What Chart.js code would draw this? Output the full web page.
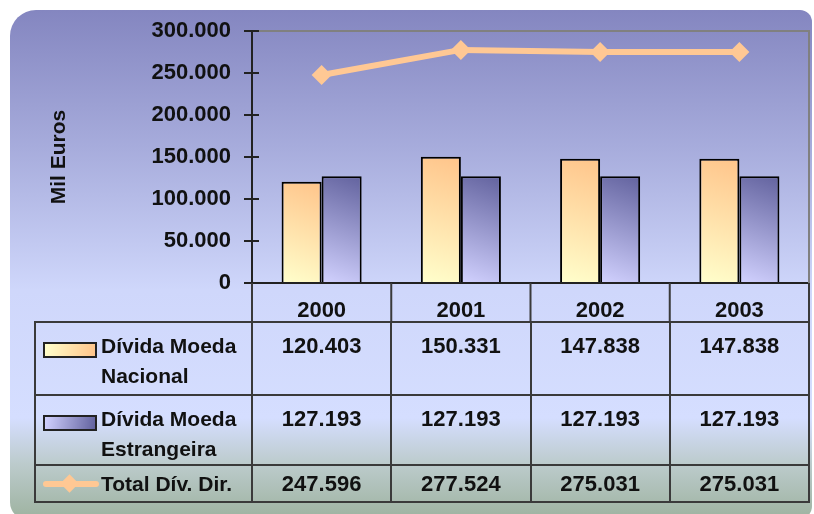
<!DOCTYPE html>
<html>
<head>
    <title>Dívida Directa</title>
    <script src="https://cdn.jsdelivr.net/npm/chart.js"></script>
    <style>
        body { margin: 0; width: 814px; height: 514px; position: relative; overflow: hidden; background: #fff; font-family: "Liberation Sans", Arial, sans-serif; }
        #fundo {
            position: absolute; left: 10px; top: 10px; width: 802px; height: 510px;
            border-radius: 26px 12px 14px 18px;
            background: linear-gradient(to bottom, #8486c0 0%, #a7acdc 27%, #cfd7fb 55%, #d5deff 80%, #bccbcc 89%, #9db29f 100%);
        }
        #grafico { position: absolute; left: 0; top: 0; }
        #tabela { position: absolute; border-collapse: collapse; table-layout: fixed; }
        #tabela td { border: 2px solid #3a3a3a; font-weight: bold; font-size: 22px; color: #111; line-height: 30px; vertical-align: top; text-align: center; padding: 8px 0 0 0; }
        #tabela td.rotulo { font-size: 21px; text-align: left; padding-left: 65px; position: relative; }
        #tabela tr.total td { vertical-align: middle; padding: 0; }
        #tabela tr.total td.rotulo { padding-left: 65px; }
        .amostra { position: absolute; left: 7px; top: 19px; width: 50px; height: 12px; border: 2px solid #222; }
        .linha { position: absolute; left: 7px; top: 15px; width: 56px; height: 6px; background: #ffc894; border-radius: 3px; }
        .losango { position: absolute; left: 27px; top: 11px; width: 13px; height: 13px; background: #ffc894; transform: rotate(45deg); }
    </style>
</head>
<body>
    <div id="fundo"></div>
    <canvas id="grafico" width="814" height="322"></canvas>
    <table id="tabela"></table>

    <script>
        const anos = ['2000', '2001', '2002', '2003'];
        const dividaNacional = [120403, 150331, 147838, 147838];
        const dividaEstrangeira = [127193, 127193, 127193, 127193];
        const totalDivida = [247596, 277524, 275031, 275031];
        const ticksY = [0, 50000, 100000, 150000, 200000, 250000, 300000];

        function formata(v) {
            return String(v).replace(/\B(?=(\d{3})+(?!\d))/g, '.');
        }

        // gradiente diagonal de cada barra
        function gradienteBarra(cores, lado) {
            return function (context) {
                const chart = context.chart;
                const xs = chart.scales.x, ys = chart.scales.y;
                if (!chart.chartArea || !xs || !ys || context.dataIndex === undefined) return cores[1];
                const centro = xs.getPixelForValue(context.dataIndex);
                const largura = xs.width / anos.length * 0.575 / 2;
                const x0 = lado < 0 ? centro - largura : centro;
                const topo = ys.getPixelForValue(context.raw);
                const g = chart.ctx.createLinearGradient(x0, ys.bottom, x0 + largura, topo);
                g.addColorStop(0, cores[0]);
                g.addColorStop(1, cores[1]);
                return g;
            };
        }

        // moldura do gráfico e separadores da linha dos anos
        const moldura = {
            id: 'moldura',
            afterDraw(chart) {
                const { ctx } = chart;
                const xs = chart.scales.x, ys = chart.scales.y;
                ctx.save();
                ctx.strokeStyle = '#808080';
                ctx.lineWidth = 2;
                ctx.beginPath();
                ctx.moveTo(ys.right, ys.top);
                ctx.lineTo(xs.right, ys.top);
                ctx.lineTo(xs.right, ys.bottom);
                ctx.stroke();

                ctx.strokeStyle = '#222';
                ctx.lineWidth = 2;
                ctx.beginPath();
                ticksY.forEach(t => {
                    const y = ys.getPixelForValue(t);
                    ctx.moveTo(ys.right, y);
                    ctx.lineTo(ys.right + 7, y);
                });
                ctx.stroke();

                ctx.strokeStyle = '#3a3a3a';
                ctx.beginPath();
                for (let i = 0; i <= anos.length; i++) {
                    const x = xs.left + i * xs.width / anos.length;
                    ctx.moveTo(x, ys.bottom);
                    ctx.lineTo(x, chart.height);
                }
                ctx.stroke();
                ctx.restore();
            }
        };

        const fonte = { family: '"Liberation Sans", Arial, sans-serif', weight: 'bold', size: 22 };

        const grafico = new Chart(document.getElementById('grafico'), {
            type: 'bar',
            data: {
                labels: anos,
                datasets: [
                    {
                        type: 'line',
                        label: 'Total Dív. Dir.',
                        data: totalDivida,
                        borderColor: '#ffc894',
                        backgroundColor: '#ffc894',
                        borderWidth: 6,
                        pointStyle: 'rectRot',
                        pointRadius: 10,
                        pointBorderWidth: 0,
                        order: 0
                    },
                    {
                        label: 'Dívida Moeda Nacional',
                        data: dividaNacional,
                        backgroundColor: gradienteBarra(['#ffffcc', '#ffc48a'], -1),
                        borderColor: '#000',
                        borderWidth: 2,
                        order: 1
                    },
                    {
                        label: 'Dívida Moeda Estrangeira',
                        data: dividaEstrangeira,
                        backgroundColor: gradienteBarra(['#d2d2ff', '#62629e'], 1),
                        borderColor: '#000',
                        borderWidth: 2,
                        order: 1
                    }
                ]
            },
            options: {
                responsive: false,
                animation: false,
                layout: { autoPadding: false, padding: { left: 0, right: 5, top: 31, bottom: 0 } },
                datasets: { bar: { categoryPercentage: 0.575, barPercentage: 1 } },
                plugins: { legend: { display: false }, tooltip: { enabled: false } },
                scales: {
                    x: {
                        grid: { display: false },
                        border: { color: '#222', width: 2 },
                        ticks: { color: '#111', font: fonte, padding: 7 },
                        afterFit(scale) {
                            scale.height = 39;
                            scale.paddingLeft = 0;
                            scale.paddingRight = 0;
                        }
                    },
                    y: {
                        min: 0,
                        max: 300000,
                        afterBuildTicks(scale) { scale.ticks = ticksY.map(v => ({ value: v })); },
                        ticks: { color: '#111', font: fonte, padding: 13, callback: v => formata(v) },
                        grid: { drawOnChartArea: false, tickLength: 8, color: '#222', lineWidth: 2 },
                        border: { color: '#222', width: 2 },
                        title: { display: true, text: 'Mil Euros', color: '#111', font: { family: fonte.family, weight: 'bold', size: 21 }, padding: { top: 47, bottom: 0 } },
                        afterFit(scale) { scale.width = 252; }
                    }
                }
            },
            plugins: [moldura]
        });

        // tabela de dados alinhada com as categorias do eixo x
        function montaTabela() {
            const xs = grafico.scales.x;
            const tabela = document.getElementById('tabela');
            const esquerda = 35;
            const larguraCol = xs.width / anos.length;
            tabela.style.left = (esquerda - 1) + 'px';
            tabela.style.top = (xs.bottom - 1) + 'px';
            tabela.style.width = (xs.right - esquerda + 2) + 'px';

            let html = '<colgroup><col style="width:' + (xs.left - esquerda) + 'px">';
            anos.forEach(() => { html += '<col style="width:' + larguraCol + 'px">'; });
            html += '</colgroup>';

            const linhas = [
                { nome: 'Dívida Moeda<br>Nacional', valores: dividaNacional, simbolo: '<span class="amostra" style="background:linear-gradient(100deg,#ffffcc,#ffc48a)"></span>', altura: 73 },
                { nome: 'Dívida Moeda<br>Estrangeira', valores: dividaEstrangeira, simbolo: '<span class="amostra" style="background:linear-gradient(100deg,#d2d2ff,#62629e)"></span>', altura: 70 },
                { nome: 'Total Dív. Dir.', valores: totalDivida, simbolo: '<span class="linha"></span><span class="losango"></span>', altura: 37, classe: 'total' }
            ];
            linhas.forEach(l => {
                html += '<tr class="' + (l.classe || '') + '" style="height:' + l.altura + 'px">';
                html += '<td class="rotulo">' + l.simbolo + l.nome + '</td>';
                l.valores.forEach(v => { html += '<td>' + formata(v) + '</td>'; });
                html += '</tr>';
            });
            tabela.innerHTML = html;
        }

        montaTabela();
    </script>
</body>
</html>
